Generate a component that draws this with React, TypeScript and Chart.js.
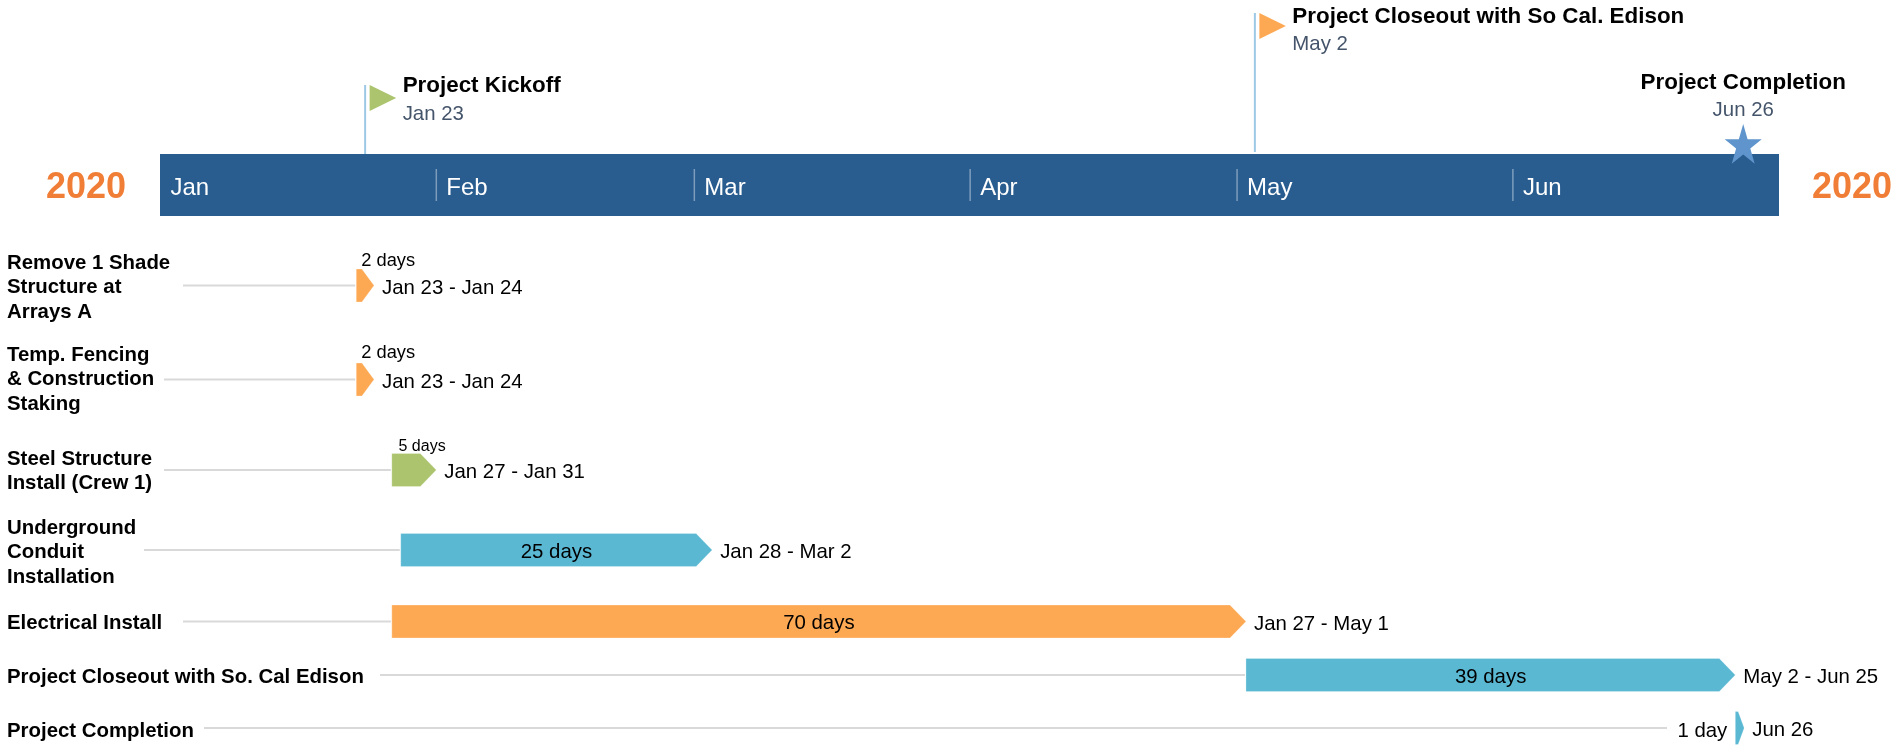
import React, { useEffect, useRef } from "react";
import { Chart, registerables, BarController, BarElement, CategoryScale } from "chart.js";

// ---------- data ----------
const taskNames = [
  ["Remove 1 Shade", "Structure at", "Arrays A"],
  ["Temp. Fencing", "& Construction", "Staking"],
  ["Steel Structure", "Install (Crew 1)"],
  ["Underground", "Conduit", "Installation"],
  ["Electrical Install"],
  ["Project Closeout with So. Cal Edison"],
  ["Project Completion"],
];
// days counted from Jan 1 2020
const taskStart = [22, 22, 26, 27, 26, 122, 177];
const taskEnd = [24, 24, 31, 62, 122, 177, 178];
const durations = ["2 days", "2 days", "5 days", "25 days", "70 days", "39 days", "1 day"];
const dateRanges = [
  "Jan 23 - Jan 24",
  "Jan 23 - Jan 24",
  "Jan 27 - Jan 31",
  "Jan 28 - Mar 2",
  "Jan 27 - May 1",
  "May 2 - Jun 25",
  "Jun 26",
];
const monthNames = ["Jan", "Feb", "Mar", "Apr", "May", "Jun"];
const monthStart = [0, 31, 60, 91, 121, 152];
const yearEndDay = 182;
const milestoneNames = ["Project Kickoff", "Project Closeout with So Cal. Edison", "Project Completion"];
const milestoneDates = ["Jan 23", "May 2", "Jun 26"];
const milestoneDay = [23, 123, 178];
const yearLabel = "2020";

// ---------- styling / layout ----------
const ORANGE = "#FDA954";
const BLUE = "#5BB8D3";
const GREEN = "#ABC46D";
const barColors = [ORANGE, ORANGE, GREEN, BLUE, ORANGE, BLUE, BLUE];
const rowCenters = [285.5, 379.5, 470, 550, 621.5, 675, 728];
const leaderStart = [183, 164, 164, 144, 183, 380, 204];
const labelFirstLine = [263, 355, 459, 528, 623.5, 677, 731];
const durationMode = ["above", "above", "above", "inside", "inside", "inside", "before"];
const durationFont = [18.3, 18.3, 16, 20.4, 20.4, 20.4, 20.4];
const durationOffset = [5, 5, 6.7, 0, 0, 0, 0];
const durationAboveShift = [25, 27, 23, 0, 0, 0, 0];
const FONT = '"Liberation Sans", Arial, sans-serif';

class RowScale extends CategoryScale {
  static id = "rows";
  static defaults = CategoryScale.defaults;
  getPixelForValue(value: any) {
    const i = typeof value === "number" ? value : (this as any).parse(value);
    return rowCenters[Math.round(i)];
  }
}

class ArrowBar extends BarElement {
  static id = "arrowBar";
  static defaults = BarElement.defaults;
  draw(ctx: CanvasRenderingContext2D) {
    const { x, y, base, height } = (this as any).getProps(["x", "y", "base", "height"]);
    const w = x - base;
    const head = Math.min(16, w * 0.68);
    ctx.save();
    ctx.fillStyle = (this as any).options.backgroundColor;
    ctx.beginPath();
    ctx.moveTo(base, y - height / 2);
    ctx.lineTo(x - head, y - height / 2);
    ctx.lineTo(x, y);
    ctx.lineTo(x - head, y + height / 2);
    ctx.lineTo(base, y + height / 2);
    ctx.closePath();
    ctx.fill();
    ctx.strokeStyle = "rgba(255,255,255,0.25)";
    ctx.lineWidth = 1;
    ctx.stroke();
    ctx.restore();
  }
}

class ArrowBarController extends BarController {
  static id = "arrowBar";
  static defaults = { ...BarController.defaults, dataElementType: "arrowBar" };
  static overrides = BarController.overrides;
}

function text(
  ctx: CanvasRenderingContext2D,
  s: string,
  x: number,
  y: number,
  font: string,
  color: string,
  align: CanvasTextAlign = "left"
) {
  ctx.font = font;
  ctx.fillStyle = color;
  ctx.textAlign = align;
  ctx.textBaseline = "middle";
  ctx.fillText(s, x, y);
}

const flagStyle = [
  { top: 85, poleEnd: 154, color: GREEN, titleY: 86, dateY: 114 },
  { top: 13, poleEnd: 152, color: ORANGE, titleY: 17, dateY: 44 },
];

const timelinePlugin = {
  id: "timeline",
  beforeDatasetsDraw(chart: any) {
    const ctx: CanvasRenderingContext2D = chart.ctx;
    const xs = chart.scales.x;
    const ys = chart.scales.y;
    ctx.save();
    // leader lines and task names
    taskNames.forEach((lines, i) => {
      const cy = ys.getPixelForValue(i);
      ctx.strokeStyle = "#D9D9D9";
      ctx.lineWidth = 2;
      const stop = durationMode[i] === "before" ? 1667 : xs.getPixelForValue(taskStart[i]) - 1;
      ctx.beginPath();
      ctx.moveTo(leaderStart[i], cy);
      ctx.lineTo(stop, cy);
      ctx.stroke();
      lines.forEach((l, k) => {
        text(ctx, l, 7, labelFirstLine[i] + k * 24.7, `bold 20.4px ${FONT}`, "#000");
      });
    });
    ctx.restore();
  },
  afterDatasetsDraw(chart: any) {
    const ctx: CanvasRenderingContext2D = chart.ctx;
    const xs = chart.scales.x;
    const ys = chart.scales.y;
    ctx.save();
    // month band
    const bandL = Math.floor(xs.getPixelForValue(0));
    const bandR = Math.floor(xs.getPixelForValue(yearEndDay));
    ctx.fillStyle = "#295C8F";
    ctx.fillRect(bandL, 154, bandR - bandL, 62);
    monthNames.forEach((m, i) => {
      const px = xs.getPixelForValue(monthStart[i]);
      if (i > 0) {
        ctx.strokeStyle = "rgba(255,255,255,0.4)";
        ctx.lineWidth = 1.5;
        ctx.beginPath();
        ctx.moveTo(px, 169);
        ctx.lineTo(px, 201);
        ctx.stroke();
      }
      text(ctx, m, px + 10, 188, `24px ${FONT}`, "#fff");
    });
    // year labels
    text(ctx, yearLabel, 86, 188, `bold 36px ${FONT}`, "#F07E36", "center");
    text(ctx, yearLabel, 1852, 188, `bold 36px ${FONT}`, "#F07E36", "center");
    // flags
    flagStyle.forEach((f, i) => {
      const px = xs.getPixelForValue(milestoneDay[i]);
      ctx.strokeStyle = "#9DC8E6";
      ctx.lineWidth = 2;
      ctx.beginPath();
      ctx.moveTo(px, f.top);
      ctx.lineTo(px, f.poleEnd);
      ctx.stroke();
      ctx.fillStyle = f.color;
      ctx.beginPath();
      ctx.moveTo(px + 4.5, f.top);
      ctx.lineTo(px + 31, f.top + 13);
      ctx.lineTo(px + 4.5, f.top + 26);
      ctx.closePath();
      ctx.fill();
      text(ctx, milestoneNames[i], px + 37.5, f.titleY, `bold 22.4px ${FONT}`, "#000");
      text(ctx, milestoneDates[i], px + 37.5, f.dateY, `20.4px ${FONT}`, "#44546A");
    });
    // star milestone
    const sx = xs.getPixelForValue(milestoneDay[2]) - 1;
    text(ctx, milestoneNames[2], sx, 82.5, `bold 22.4px ${FONT}`, "#000", "center");
    text(ctx, milestoneDates[2], sx, 110.5, `20.4px ${FONT}`, "#44546A", "center");
    ctx.fillStyle = "#5F95CC";
    ctx.beginPath();
    for (let k = 0; k < 10; k++) {
      const a = -Math.PI / 2 + (k * Math.PI) / 5;
      const r = k % 2 === 0 ? 1 : 0.382;
      const px = sx + 19.5 * r * Math.cos(a);
      const py = 146 + 22 * r * Math.sin(a);
      if (k === 0) ctx.moveTo(px, py);
      else ctx.lineTo(px, py);
    }
    ctx.closePath();
    ctx.fill();
    // labels of the bars
    durations.forEach((d, i) => {
      const start = xs.getPixelForValue(taskStart[i]);
      const end = xs.getPixelForValue(taskEnd[i]);
      const cy = ys.getPixelForValue(i);
      const font = `${durationFont[i]}px ${FONT}`;
      if (durationMode[i] === "above") {
        text(ctx, d, start + durationOffset[i], cy - durationAboveShift[i], font, "#000");
      } else if (durationMode[i] === "inside") {
        text(ctx, d, (start + end) / 2, cy + 2, font, "#000", "center");
      } else {
        text(ctx, d, start - 8, cy + 3, font, "#000", "right");
      }
      text(ctx, dateRanges[i], end + 8, cy + 2.5, `20.4px ${FONT}`, "#000");
    });
    ctx.restore();
  },
};

Chart.register(...registerables, RowScale, ArrowBar, ArrowBarController);

export default function App() {
  const ref = useRef<HTMLCanvasElement | null>(null);
  useEffect(() => {
    const chart = new Chart(ref.current as HTMLCanvasElement, {
      type: "arrowBar" as any,
      data: {
        labels: taskNames.map((n) => n.join(" ")),
        datasets: [
          {
            label: "Tasks",
            data: taskStart.map((s, i) => [s, taskEnd[i]]),
            backgroundColor: barColors,
            barThickness: 33,
          } as any,
        ],
      },
      options: {
        indexAxis: "y",
        animation: false,
        responsive: false,
        maintainAspectRatio: false,
        devicePixelRatio: 1,
        layout: { padding: { left: 160.5, right: 115.2, top: 0, bottom: 0 } },
        scales: {
          x: { type: "linear", min: 0, max: yearEndDay, display: false },
          y: { type: "rows" as any, display: false },
        },
        plugins: { legend: { display: false }, tooltip: { enabled: false } },
      } as any,
      plugins: [timelinePlugin],
    });
    return () => chart.destroy();
  }, []);
  return (
    <canvas
      ref={ref}
      width={1895}
      height={748}
      style={{ position: "absolute", left: 0, top: 0, display: "block" }}
    />
  );
}
